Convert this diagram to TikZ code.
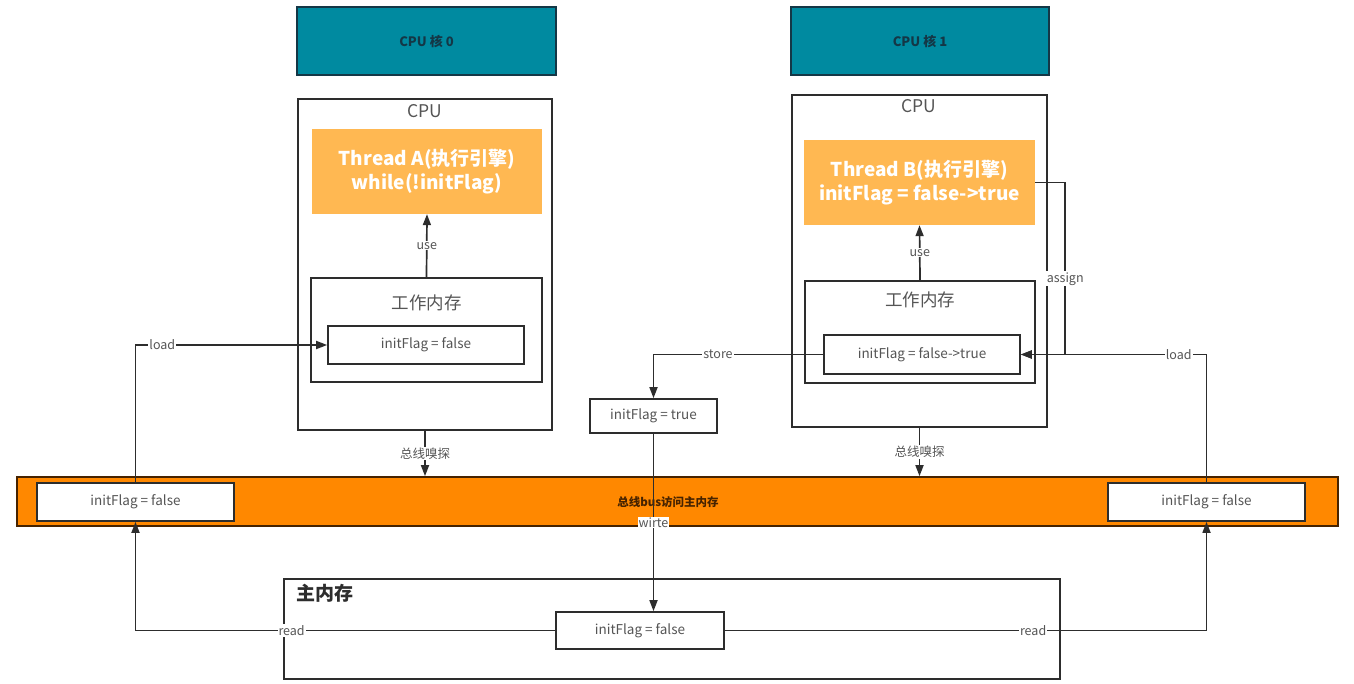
\documentclass[tikz,border=0pt]{standalone}
\usepackage{fontspec}
\setmainfont{Noto Sans CJK SC}
\usetikzlibrary{arrows.meta}
\definecolor{coreteal}{RGB}{0,138,160}
\definecolor{coreedge}{RGB}{20,55,70}
\definecolor{threadorange}{RGB}{255,184,82}
\definecolor{busorange}{RGB}{255,136,0}
\definecolor{busedge}{RGB}{70,35,0}
\definecolor{linegray}{RGB}{45,45,45}
\definecolor{textgray}{RGB}{85,85,85}
\tikzset{
  box/.style={draw=linegray, line width=1.7pt, inner sep=0pt},
  varbox/.style={box, fill=white, text=textgray, font=\fontsize{13.5}{15}\selectfont},
  corebox/.style={box, draw=coreedge, fill=coreteal, text=coreedge, font=\bfseries\fontsize{13}{15}\selectfont},
  threadbox/.style={fill=threadorange, text=white, align=center, inner sep=0pt, font=\bfseries\fontsize{19}{24}\selectfont},
  title/.style={text=textgray, font=\fontsize{17.5}{20}\selectfont},
  conn/.style={draw=linegray, line width=1.7pt},
  arr/.style={conn, -{Triangle[length=11pt,width=8pt]}},
  lbl/.style={fill=white, inner sep=1pt, text=textgray, font=\fontsize{12.5}{14}\selectfont},
}
\begin{document}
\begin{tikzpicture}[x=1pt,y=-1pt]
    \useasboundingbox[fill=white] (0,0) rectangle (1354,684);
    % cores
    \node[corebox, minimum width=259pt, minimum height=68pt] (core0) at (426.5,41) {CPU 核 0};
    \node[corebox, minimum width=258pt, minimum height=68pt] (core1) at (920,41) {CPU 核 1};
    % cpu 0
    \node[box, minimum width=254pt, minimum height=331pt] (cpu0) at (425,264.5) {};
    \node[title] (cpu0t) at (425,111) {CPU};
    \node[threadbox, minimum width=230pt, minimum height=85pt] (threadA) at (427,171.5) {Thread A(执行引擎)\\while(!initFlag)};
    \node[box, minimum width=231pt, minimum height=104pt] (wm0) at (426.5,330) {};
    \node[title] (wm0t) at (426.5,303) {工作内存};
    \node[varbox, minimum width=196pt, minimum height=38pt] (var0) at (426,345) {initFlag = false};
    % cpu 1
    \node[box, minimum width=255pt, minimum height=332pt] (cpu1) at (919.5,261) {};
    \node[title] (cpu1t) at (919,106) {CPU};
    \node[threadbox, minimum width=231pt, minimum height=85pt] (threadB) at (919.5,182.5) {Thread B(执行引擎)\\initFlag = false->true};
    \node[box, minimum width=230pt, minimum height=102pt] (wm1) at (920,332) {};
    \node[title] (wm1t) at (920,300) {工作内存};
    \node[varbox, minimum width=196pt, minimum height=39pt] (var1) at (922,354.5) {initFlag = false->true};
    \node[varbox, minimum width=127pt, minimum height=34pt] (varT) at (653.5,416) {initFlag = true};
    % bus
    \node[box, draw=busedge, fill=busorange, minimum width=1321pt, minimum height=49pt] (bus) at (677.5,501.5) {};
    \node[text=busedge, font=\bfseries\fontsize{11.5}{13}\selectfont] (bust) at (668,502) {总线bus访问主内存};
    \node[varbox, minimum width=197pt, minimum height=38pt] (busL) at (135.5,502) {initFlag = false};
    \node[varbox, minimum width=197pt, minimum height=38pt] (busR) at (1206.5,502) {initFlag = false};
    % main memory
    \node[box, minimum width=776pt, minimum height=100pt] (main) at (672,629) {};
    \node[font=\bfseries\fontsize{19}{21}\selectfont, text=linegray] (maint) at (325,593) {主内存};
    \node[varbox, minimum width=168pt, minimum height=37pt] (varM) at (640,630.5) {initFlag = false};
    % connectors
    \draw[arr] (wm0.north) -- node[lbl] {use} (threadA.south);
    \draw[arr] (wm1.north) -- node[lbl] {use} (threadB.south);
    \draw[arr] (cpu0.south) -- node[lbl] {总线嗅探} (cpu0.south |- bus.north);
    \draw[arr] (cpu1.south) -- node[lbl] {总线嗅探} (cpu1.south |- bus.north);
    \draw[arr] (busL.north) |- node[pos=0.57, lbl] {load} (var0.west);
    \draw[arr] (busR.north) |- node[pos=0.575, lbl] {load} (var1.east);
    \draw[arr] (threadB.east) -- ++(30,0) |- node[pos=0.28, lbl] {assign} (var1.east);
    \draw[arr] (var1.west) -| node[pos=0.31, lbl] {store} (varT.north);
    \draw[arr] (varT.south) -- node[lbl] {wirte} (varT.south |- varM.north);
    \draw[arr] (varM.west) -| node[pos=0.314, lbl] {read} (busL.south);
    \draw[arr] (varM.east) -| node[pos=0.32, lbl] {read} (busR.south);
\end{tikzpicture}
\end{document}
